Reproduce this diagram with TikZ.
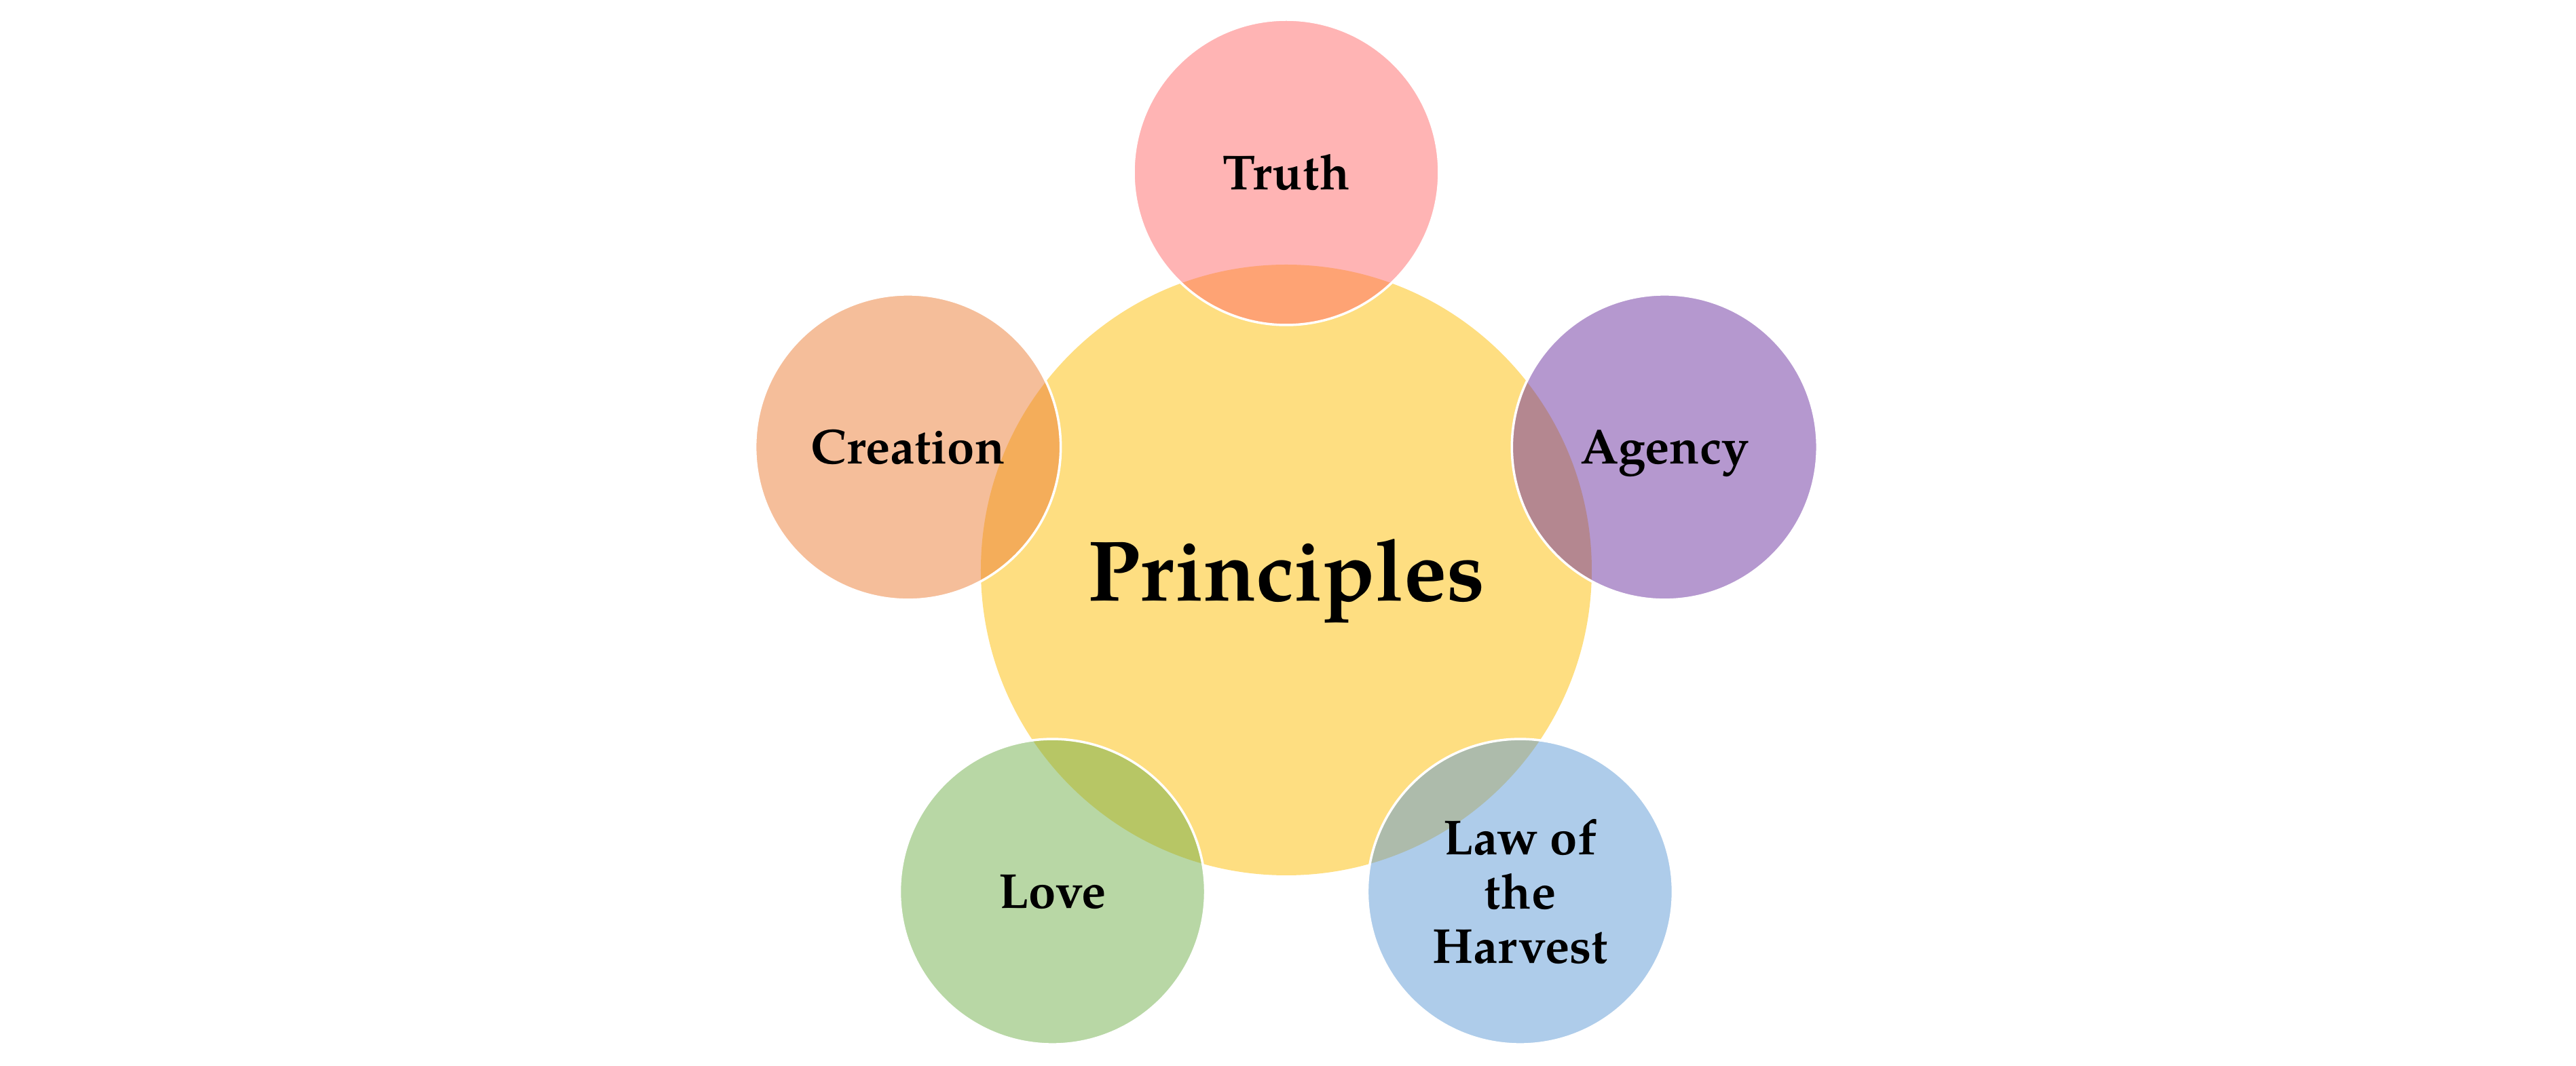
\documentclass[tikz,border=0pt]{standalone}
\usepackage{fontspec}
\setmainfont{TeX Gyre Pagella}
\usepackage{tikz}
\usetikzlibrary{
    positioning
}
\definecolor{hubYellow}{RGB}{254, 222, 129}
\definecolor{truthRed}{RGB}{255, 105, 105}
\definecolor{creationOrange}{RGB}{235, 125, 53}
\definecolor{agencyPurple}{RGB}{107, 49, 159}
\definecolor{loveGreen}{RGB}{113, 175, 75}
\definecolor{harvestBlue}{RGB}{93, 153, 213}

\begin{document}
\begin{tikzpicture}[
        hub/.style={circle, fill=hubYellow, minimum size=9cm, inner sep=0pt,
            text depth=0pt, font=\fontsize{36}{40}\selectfont\bfseries},
        petal/.style={circle, draw=white, line width=1pt, fill opacity=0.5,
            text opacity=1, minimum size=4.5cm, inner sep=0pt, align=center,
            font=\fontsize{20.6}{22.8}\selectfont\bfseries}
    ]
    \useasboundingbox (-18.95,-7.31) rectangle (19.00,8.40);

    % centre circle
    \node[hub] (hub) at (0,0) {Principles};

    % five circles round it, 72 degrees apart
    \node[petal, fill=truthRed] (truth) at (90:5.86) {Truth};
    \node[petal, fill=creationOrange] (creation) at (162:5.86) {Creation};
    \node[petal, fill=loveGreen] (love) at (234:5.86) {Love};
    \node[petal, fill=harvestBlue] (harvest) at (306:5.86) {Law of\\the\\Harvest};
    \node[petal, fill=agencyPurple, text depth=0pt] (agency) at (18:5.86) {Agency};
\end{tikzpicture}
\end{document}
